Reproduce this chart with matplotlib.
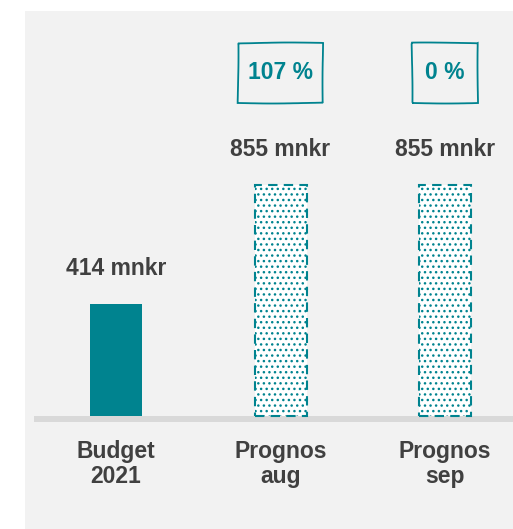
import matplotlib
matplotlib.use("Agg")
import matplotlib.pyplot as plt
from matplotlib.patches import Rectangle

plt.rcParams['font.family'] = ['Liberation Sans', 'DejaVu Sans']
plt.rcParams['hatch.linewidth'] = 1.0

# data
categories = ['Budget\n2021', 'Prognos\naug', 'Prognos\nsep']
values = [414, 855, 855]
value_labels = ['414 mnkr', '855 mnkr', '855 mnkr']
change_labels = [None, '107 %', '0 %']

teal = '#00838f'
grey_text = '#404040'

W, H = 513, 529
fig = plt.figure(figsize=(W / 100, H / 100), dpi=100)
fig.patch.set_facecolor('white')

# light grey panel behind the chart
fig.patches.append(Rectangle((25 / W, 0), 488 / W, 518 / H, transform=fig.transFigure,
                             facecolor='#f2f2f2', edgecolor='none', zorder=-1))

ax = fig.add_axes([25 / W, (H - 422) / H, 488 / W, 411 / H])
ax.set_facecolor('none')
ax.set_zorder(1)
ax.set_xlim(-0.553, 2.413)
ax.set_ylim(-22.2, 1497)

x = list(range(len(categories)))
bw = 0.316

# baseline
ax.axhspan(-22.2, 0, xmin=9 / 488, xmax=1, facecolor='#d9d9d9', edgecolor='none', zorder=1)

# budget bar (solid)
ax.bar(x[0], values[0], bw, color=teal, zorder=2)
# prognos bars (dotted, dashed outline)
ax.bar(x[1:], values[1:], bw, facecolor='white', edgecolor=teal, hatch='...',
       linewidth=1.5, linestyle=(0, (4.5, 3)), zorder=2)

for xi, v, lab in zip(x, values, value_labels):
    ax.annotate(lab, (xi, v), xytext=(0, 21), textcoords='offset points',
                ha='center', va='baseline', fontsize=16.5, fontweight='bold',
                color=grey_text, annotation_clip=False)

# change boxes, slightly hand-drawn look
box_w = [0, 0.517, 0.40]
for xi, lab, bwid in zip(x, change_labels, box_w):
    if lab is None:
        continue
    r = Rectangle((xi - bwid / 2, 1157), bwid, 222, fill=False, edgecolor=teal,
                  linewidth=1.3, zorder=3, clip_on=False)
    r.set_sketch_params(scale=0.5, length=150, randomness=2)
    ax.add_patch(r)
    ax.text(xi, 1268, lab, ha='center', va='center', fontsize=16.5,
            fontweight='bold', color=teal)

ax.set_xticks(x, categories)
ax.tick_params(axis='x', length=0, pad=13)
for t in ax.get_xticklabels():
    t.set_fontsize(16.5)
    t.set_fontweight('bold')
    t.set_color(grey_text)
    t.set_linespacing(1.1)
ax.set_yticks([])
for s in ax.spines.values():
    s.set_visible(False)

fig.savefig('out.png', dpi=100, facecolor='white')
